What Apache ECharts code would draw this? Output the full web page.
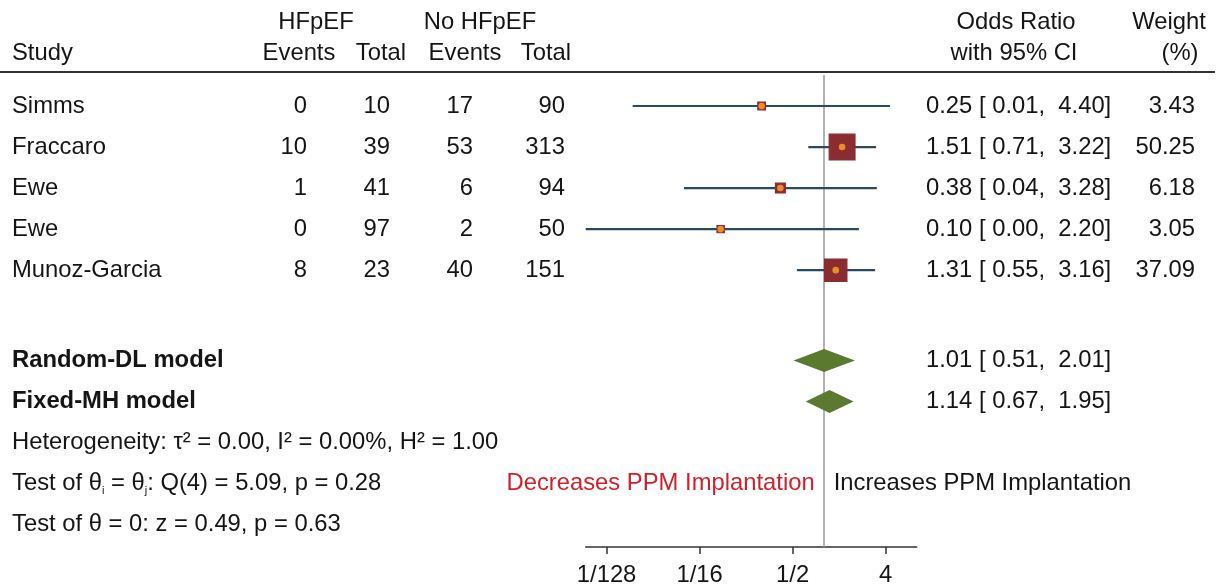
<!DOCTYPE html>
<html><head><meta charset="utf-8">
<script src="https://cdn.jsdelivr.net/npm/echarts@6/dist/echarts.min.js"></script>
<style>html,body{margin:0;padding:0;background:#fff}#c{width:1225px;height:586px}</style>
</head><body><div id="c"></div>
<script>
// ---------- data ----------
const studies   = ['Simms', 'Fraccaro', 'Ewe', 'Ewe', 'Munoz-Garcia'];
const hfEvents  = [0, 10, 1, 0, 8];
const hfTotal   = [10, 39, 41, 97, 23];
const noEvents  = [17, 53, 6, 2, 40];
const noTotal   = [90, 313, 94, 50, 151];
const orVals    = [0.25, 1.51, 0.38, 0.10, 1.31];
const ciLow     = [0.014, 0.71, 0.044, 0.0049, 0.55];
const ciHigh    = [4.40, 3.22, 3.28, 2.20, 3.16];
const weights   = [3.43, 50.25, 6.18, 3.05, 37.09];

const models     = ['Random-DL model', 'Fixed-MH model'];
const pooledOR   = [1.01, 1.14];
const pooledLow  = [0.51, 0.67];
const pooledHigh = [2.01, 1.95];

const footNotes = [
  'Heterogeneity: τ² = 0.00, I² = 0.00%, H² = 1.00',
  'Test of θ{sub|i} = θ{sub|j}: Q(4) = 5.09, p = 0.28',
  'Test of θ = 0: z = 0.49, p = 0.63'
];

const xTickValues = [1/128, 1/16, 1/2, 4];
const xTickLabels = ['1/128', '1/16', '1/2', '4'];
const xMaxOR = 8;

// ---------- layout / style ----------
const FONT = '"Liberation Sans", Arial, Helvetica, sans-serif';
const FS = 23.8;
const TXT = '#151515';
const log2 = Math.log2;
const studyRows = studies.map((_, i) => i + 1);
const modelRows = [7.2, 8.2];
const footRows = [9.2, 10.2, 11.2];

const chart = echarts.init(document.getElementById('c'), null, {renderer: 'canvas'});

const studyData = studies.map((s, i) => [log2(ciLow[i]), log2(ciHigh[i]), log2(orVals[i]), studyRows[i], weights[i]]);
const modelData = models.map((m, i) => [log2(pooledLow[i]), log2(pooledHigh[i]), log2(pooledOR[i]), modelRows[i]]);

chart.setOption({
  animation: false,
  backgroundColor: '#fff',
  grid: {left: 585.7, right: 1225 - 916.7, top: 75, bottom: 39, containLabel: false, outerBoundsMode: 'none'},
  xAxis: {
    type: 'value',
    min: log2(Math.min(...ciLow)),
    max: log2(xMaxOR),
    splitLine: {show: false},
    axisLine: {onZero: false, lineStyle: {color: '#333', width: 1.5}},
    axisTick: {show: true, length: 7, lineStyle: {color: '#333', width: 1.5}, customValues: xTickValues.map(log2)},
    axisLabel: {
      customValues: xTickValues.map(log2),
      formatter: v => {
        const k = xTickValues.findIndex(t => Math.abs(log2(t) - v) < 1e-6);
        return k >= 0 ? xTickLabels[k] : '';
      },
      fontSize: FS, color: TXT, fontFamily: FONT, margin: 16
    }
  },
  yAxis: {type: 'value', inverse: true, min: 0.245, max: 11.745, show: false},
  series: [
    {
      type: 'custom',
      data: studyData,
      encode: {x: [0, 1, 2], y: 3},
      z: 5,
      renderItem: (params, api) => {
        const lo = api.coord([api.value(0), api.value(3)]);
        const hi = api.coord([api.value(1), api.value(3)]);
        const c = api.coord([api.value(2), api.value(3)]);
        const s = 3.47 * Math.sqrt(api.value(4)) + 1.2;
        return {
          type: 'group',
          children: [
            {type: 'line', shape: {x1: lo[0], y1: lo[1], x2: hi[0], y2: hi[1]}, style: {stroke: '#2a4a63', lineWidth: 2.2}},
            {type: 'rect', shape: {x: c[0] - s / 2, y: c[1] - s / 2, width: s, height: s}, style: {fill: '#8b2c31', stroke: '#8b2c31', lineWidth: 1.2}},
            {type: 'circle', shape: {cx: c[0], cy: c[1], r: 3.3}, style: {fill: '#ea8d2c'}}
          ]
        };
      },
      markLine: {
        silent: true, symbol: 'none', label: {show: false},
        lineStyle: {color: '#9a9a9a', width: 1.5, type: 'solid'},
        data: [{xAxis: 0}]
      }
    },
    {
      type: 'custom',
      data: modelData,
      encode: {x: [0, 1, 2], y: 3},
      z: 5,
      renderItem: (params, api) => {
        const lo = api.coord([api.value(0), api.value(3)]);
        const hi = api.coord([api.value(1), api.value(3)]);
        const c = api.coord([api.value(2), api.value(3)]);
        const h = 11.5;
        return {
          type: 'polygon',
          shape: {points: [[lo[0], lo[1]], [c[0], c[1] - h], [hi[0], hi[1]], [c[0], c[1] + h]]},
          style: {fill: '#5b7a2f', stroke: 'none'}
        };
      }
    }
  ]
});

// ---------- table texts ----------
const rowY = r => chart.convertToPixel({yAxisIndex: 0}, r);
const xOne = chart.convertToPixel({xAxisIndex: 0}, 0);
function txt(x, y, text, align, extra) {
  return {
    type: 'text', x: x, y: y, silent: true, z: 10,
    style: Object.assign({text: text, align: align, verticalAlign: 'middle', fontSize: FS, fontFamily: FONT, fill: TXT}, extra || {})
  };
}
const fmt = v => v.toFixed(2);
const g = [];
// header
const H1 = 22, H2 = 53;
g.push(txt(316, H1, 'HFpEF', 'center'));
g.push(txt(480, H1, 'No HFpEF', 'center'));
g.push(txt(1016, H1, 'Odds Ratio', 'center'));
g.push(txt(1169, H1, 'Weight', 'center'));
g.push(txt(12, H2, 'Study', 'left'));
g.push(txt(299, H2, 'Events', 'center'));
g.push(txt(381, H2, 'Total', 'center'));
g.push(txt(465, H2, 'Events', 'center'));
g.push(txt(546, H2, 'Total', 'center'));
g.push(txt(1014, H2, 'with 95% CI', 'center'));
g.push(txt(1180, H2, '(%)', 'center'));
g.push({type: 'line', silent: true, shape: {x1: 0, y1: 72, x2: 1215, y2: 72}, style: {stroke: '#333', lineWidth: 2}});

studies.forEach((s, i) => {
  const y = rowY(studyRows[i]);
  g.push(txt(12, y, s, 'left'));
  g.push(txt(307, y, String(hfEvents[i]), 'right'));
  g.push(txt(390, y, String(hfTotal[i]), 'right'));
  g.push(txt(473, y, String(noEvents[i]), 'right'));
  g.push(txt(565, y, String(noTotal[i]), 'right'));
  g.push(txt(926, y, fmt(orVals[i]) + ' [ ' + fmt(ciLow[i]) + ',  ' + fmt(ciHigh[i]) + ']', 'left'));
  g.push(txt(1195, y, fmt(weights[i]), 'right'));
});
models.forEach((m, i) => {
  const y = rowY(modelRows[i]);
  g.push(txt(12, y, m, 'left', {fontWeight: 'bold'}));
  g.push(txt(926, y, fmt(pooledOR[i]) + ' [ ' + fmt(pooledLow[i]) + ',  ' + fmt(pooledHigh[i]) + ']', 'left'));
});
footNotes.forEach((f, i) => {
  const y = rowY(footRows[i]);
  g.push(txt(12, y, f, 'left', {rich: {sub: {fontSize: 11, fontFamily: FONT, fill: TXT, padding: [15, 0, 0, 0]}}}));
});
const yDir = rowY(footRows[1]);
g.push(txt(xOne - 9, yDir, 'Decreases PPM Implantation', 'right', {fill: '#d21f2b'}));
g.push(txt(xOne + 10, yDir, 'Increases PPM Implantation', 'left'));

chart.setOption({graphic: {elements: g}});
</script>
</body></html>
